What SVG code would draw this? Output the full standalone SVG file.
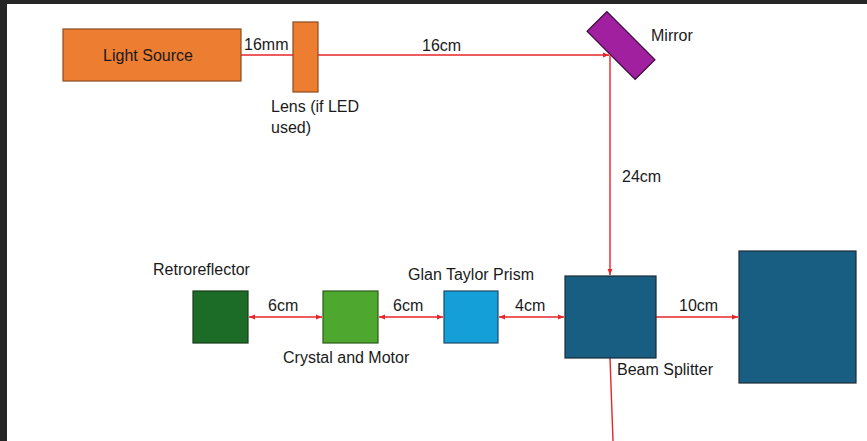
<svg xmlns="http://www.w3.org/2000/svg" width="867" height="441" viewBox="0 0 867 441">
<defs>
<style>
.t{font-family:"Liberation Sans",Arial,sans-serif;font-size:16px;fill:#1a1a1a}
.beam{stroke:#e8252a;stroke-width:1.4;fill:none}
.blk{stroke:#1d2b36;stroke-width:1.2}
</style>
<marker id="ah" viewBox="0 0 10 10" refX="10" refY="5" markerWidth="6" markerHeight="6" orient="auto-start-reverse" markerUnits="userSpaceOnUse">
<path d="M0,1 L10,5 L0,9 z" fill="#e8252a"/>
</marker>
</defs>
<rect x="0" y="0" width="867" height="441" fill="#ffffff"/>
<rect x="0" y="0" width="867" height="4" fill="#262626"/>
<rect x="0" y="0" width="7" height="441" fill="#262626"/>
<g id="connectors">
<line class="beam" x1="241" y1="55" x2="293" y2="55"/>
<line class="beam" x1="318" y1="55" x2="609" y2="55" marker-end="url(#ah)"/>
<line class="beam" x1="610" y1="55" x2="610" y2="275" marker-end="url(#ah)"/>
<line class="beam" x1="249" y1="317" x2="322" y2="317" marker-start="url(#ah)" marker-end="url(#ah)"/>
<line class="beam" x1="379" y1="317" x2="443" y2="317" marker-start="url(#ah)" marker-end="url(#ah)"/>
<line class="beam" x1="499" y1="317" x2="564" y2="317" marker-start="url(#ah)" marker-end="url(#ah)"/>
<line class="beam" x1="656" y1="317" x2="738" y2="317" marker-end="url(#ah)"/>
<line class="beam" x1="610" y1="358" x2="613" y2="441"/>
<text class="t" x="244" y="50">16mm</text>
<text class="t" x="422" y="51">16cm</text>
<text class="t" x="622" y="182">24cm</text>
<text class="t" x="268" y="311">6cm</text>
<text class="t" x="393" y="311">6cm</text>
<text class="t" x="515" y="311">4cm</text>
<text class="t" x="679" y="311">10cm</text>
</g>
<g id="light-source">
<rect x="63" y="29" width="178" height="52" fill="#ed7d31" stroke="#8a4a1e" stroke-width="1.2"/>
<text class="t" x="148" y="61" text-anchor="middle">Light Source</text>
</g>
<g id="lens">
<rect x="293" y="22" width="25" height="70" fill="#ed7d31" stroke="#8a4a1e" stroke-width="1.2"/>
<text class="t" x="271" y="112">Lens (if LED</text>
<text class="t" x="271" y="133">used)</text>
</g>
<g id="mirror">
<rect x="587" y="31.5" width="68" height="28" fill="#a020a0" stroke="#3b0a3b" stroke-width="1.2" transform="rotate(45 621 45.5)"/>
<text class="t" x="651" y="41">Mirror</text>
</g>
<g id="retroreflector">
<rect x="193" y="291" width="55" height="52" fill="#1c6b27" stroke="#143d18" stroke-width="1.2"/>
<text class="t" x="153" y="275">Retroreflector</text>
</g>
<g id="crystal">
<rect x="323" y="291" width="55" height="52" fill="#4ea72e" stroke="#2b5a1c" stroke-width="1.2"/>
<text class="t" x="283" y="363">Crystal and Motor</text>
</g>
<g id="glan-taylor">
<rect x="444" y="291" width="54" height="52" fill="#149fd8" stroke="#1b4a66" stroke-width="1.2"/>
<text class="t" x="408" y="280">Glan Taylor Prism</text>
</g>
<g id="beam-splitter">
<rect x="565" y="276" width="91" height="82" fill="#175e82" class="blk"/>
<text class="t" x="617" y="375">Beam Splitter</text>
</g>
<g id="detector">
<rect x="739" y="251" width="117" height="132" fill="#175e82" class="blk"/>
</g>
</svg>
